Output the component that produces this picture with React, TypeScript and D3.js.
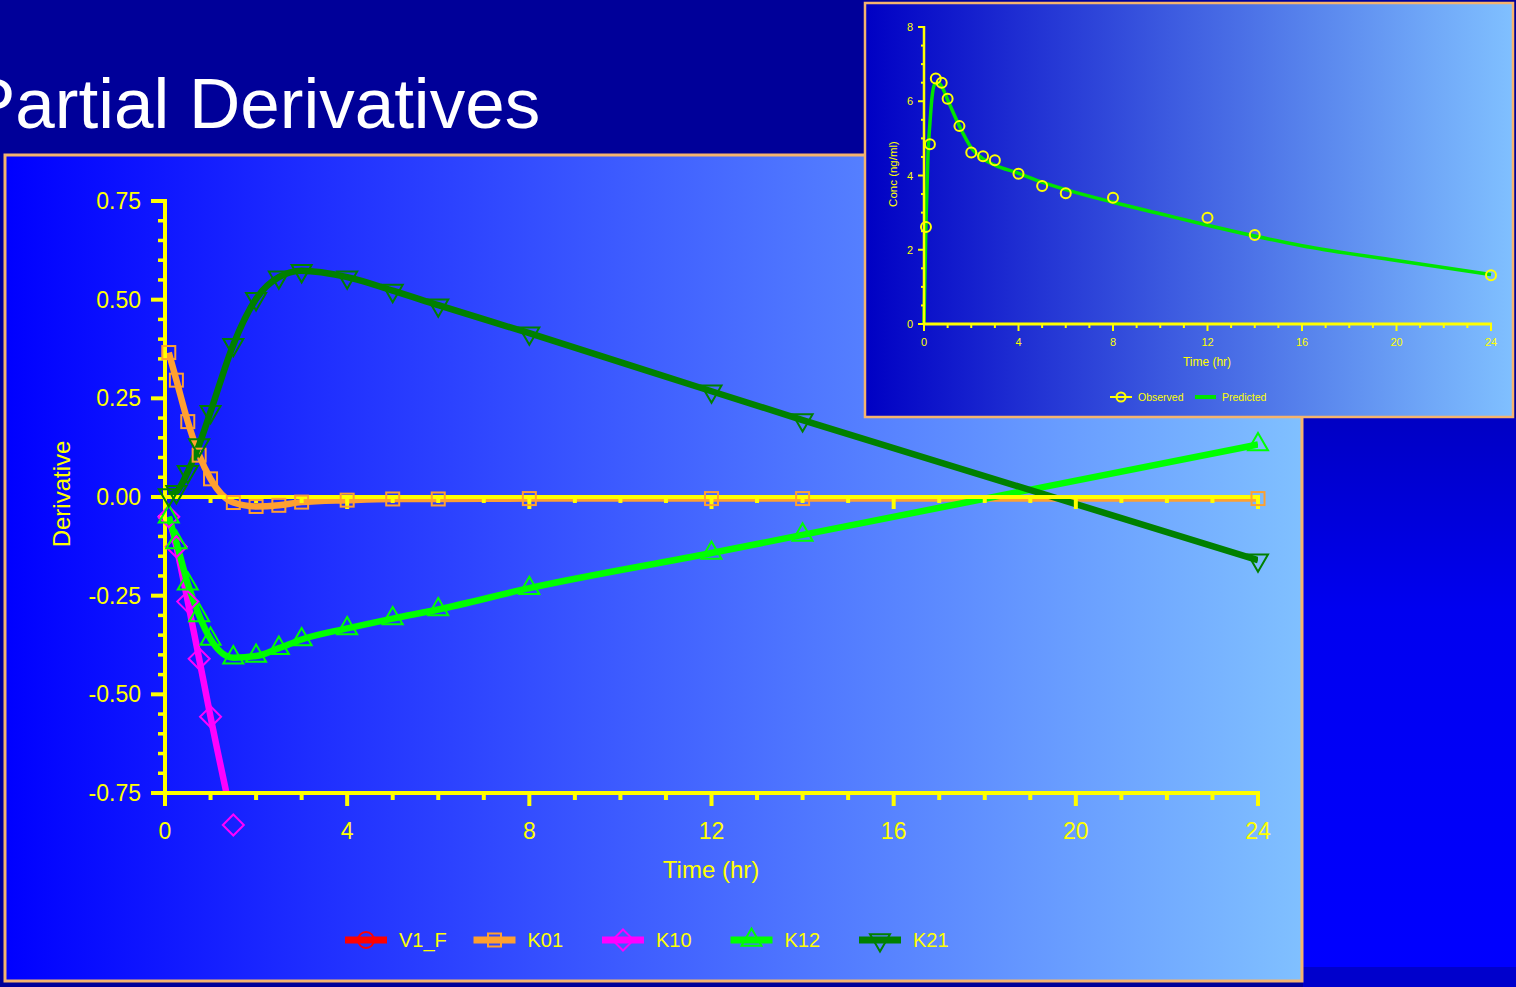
import React from 'react';
import * as d3 from 'd3';

const W = 1516;
const H = 987;

// ---------- main chart data ----------
const times = [0.083, 0.25, 0.5, 0.75, 1, 1.5, 2, 2.5, 3, 4, 5, 6, 8, 12, 14, 24];
const k01 = [0.366, 0.296, 0.191, 0.106, 0.046, -0.014, -0.024, -0.021, -0.013, -0.008, -0.005, -0.005, -0.004, -0.004, -0.004, -0.004];
const k10 = [-0.05, -0.126, -0.265, -0.41, -0.557, -0.831];
const k12 = [-0.05, -0.115, -0.22, -0.3, -0.36, -0.407, -0.403, -0.383, -0.361, -0.333, -0.308, -0.285, -0.231, -0.142, -0.096, 0.133];
const k21 = [0.005, 0.013, 0.064, 0.132, 0.216, 0.386, 0.502, 0.557, 0.573, 0.557, 0.523, 0.486, 0.415, 0.268, 0.195, -0.16];
const v1f: number[] = []; // off-scale, only shown in legend

const seriesNames = ['V1_F', 'K01', 'K10', 'K12', 'K21'];
const seriesColors = ['#ff0000', '#ffa030', '#ff00ff', '#00ff00', '#008000'];
const seriesShapes = ['circle', 'square', 'diamond', 'triUp', 'triDown'];
const seriesValues = [v1f, k01, k10, k12, k21];

const yTicks = [-0.75, -0.5, -0.25, 0, 0.25, 0.5, 0.75];
const xTicks = [0, 4, 8, 12, 16, 20, 24];

// ---------- inset data ----------
const obsConc = [2.61, 4.84, 6.61, 6.5, 6.07, 5.33, 4.62, 4.52, 4.41, 4.05, 3.72, 3.52, 3.4, 2.86, 2.4, 1.31];
const predTimes = [0, 0.083, 0.17, 0.25, 0.33, 0.45, 0.6, 0.75, 1, 1.5, 2, 2.5, 3, 4, 5, 6, 8, 10, 12, 14, 16, 20, 24];
const predConc = [0, 2.7, 4.6, 5.4, 6.05, 6.45, 6.5, 6.4, 6.04, 5.33, 4.75, 4.45, 4.28, 4.06, 3.82, 3.62, 3.28, 2.97, 2.66, 2.37, 2.11, 1.71, 1.33];
const insetYTicks = [0, 2, 4, 6, 8];
const insetXTicks = [0, 4, 8, 12, 16, 20, 24];

const FONT = '"Liberation Sans", Arial, Helvetica, sans-serif';
const YEL = '#ffff00';

function Marker({ shape, x, y, color }: { shape: string; x: number; y: number; color: string }) {
  const common = { fill: 'none', stroke: color, strokeWidth: 2 };
  if (shape === 'circle') return <circle cx={x} cy={y} r={8} {...common} />;
  if (shape === 'square') return <rect x={x - 6.5} y={y - 6.5} width={13} height={13} {...common} />;
  if (shape === 'diamond') {
    const r = 10.5;
    return <path d={`M${x},${y - r}L${x + r},${y}L${x},${y + r}L${x - r},${y}Z`} {...common} />;
  }
  const tri = d3.symbol(d3.symbolTriangle, 173)() as string;
  if (shape === 'triUp') return <path d={tri} transform={`translate(${x},${y})`} {...common} />;
  return <path d={tri} transform={`translate(${x},${y}) rotate(180)`} {...common} />;
}

export default function App() {
  const x = d3.scaleLinear().domain([0, 24]).range([165, 1258]);
  const y = d3.scaleLinear().domain([-0.75, 0.75]).range([793, 201]);

  const line = d3
    .line<[number, number]>()
    .x((d) => x(d[0]))
    .y((d) => y(d[1]))
    .curve(d3.curveMonotoneX);

  const xi = d3.scaleLinear().domain([0, 24]).range([924, 1491]);
  const yi = d3.scaleLinear().domain([0, 8]).range([324, 27]);
  const lineI = d3
    .line<[number, number]>()
    .x((d) => xi(d[0]))
    .y((d) => yi(d[1]))
    .curve(d3.curveMonotoneX);

  const minorY = d3.range(-0.75, 0.7501, 0.05).filter((v) => Math.abs(Math.round(v * 4) - v * 4) > 1e-6);
  const minorX = d3.range(0, 25, 1).filter((v) => v % 4 !== 0);
  const minorYi = d3.range(0, 8.01, 0.5).filter((v) => v % 2 !== 0);

  return (
    <svg
      width={W}
      height={H}
      style={{ position: 'absolute', left: 0, top: 0, display: 'block' }}
      fontFamily={FONT}
    >
      <defs>
        <linearGradient id="mainGrad" x1="0" x2="1" y1="0" y2="0">
          <stop offset="0" stopColor="#0000ff" />
          <stop offset="1" stopColor="#80c0ff" />
        </linearGradient>
        <linearGradient id="insetGrad" x1="0" x2="1" y1="0" y2="0">
          <stop offset="0" stopColor="#0000c4" />
          <stop offset="1" stopColor="#80c0ff" />
        </linearGradient>
        <linearGradient id="sideGrad" x1="0" x2="0" y1="0" y2="1">
          <stop offset="0" stopColor="#0000c4" />
          <stop offset="0.35" stopColor="#0000f0" />
          <stop offset="1" stopColor="#0000ff" />
        </linearGradient>
        <clipPath id="plotClip">
          <rect x={165} y={201} width={1093} height={592} />
        </clipPath>
      </defs>

      {/* page background */}
      <rect x={0} y={0} width={W} height={H} fill="#000099" />
      <rect x={1303} y={418} width={213} height={549} fill="url(#sideGrad)" />
      <rect x={1303} y={967} width={213} height={20} fill="#0000cc" />

      {/* title */}
      <text x={-32} y={128} fontSize={71} fill="#ffffff">
        Partial Derivatives
      </text>

      {/* main panel */}
      <rect x={5} y={155} width={1297} height={826} fill="url(#mainGrad)" stroke="#f5b46e" strokeWidth={3} />

      {/* data lines */}
      <g clipPath="url(#plotClip)">
        {seriesValues.map((vals, i) =>
          vals.length ? (
            <path
              key={seriesNames[i]}
              d={line(vals.map((v, j) => [times[j], v] as [number, number])) as string}
              fill="none"
              stroke={seriesColors[i]}
              strokeWidth={6.5}
              strokeLinejoin="round"
            />
          ) : null
        )}
      </g>

      {/* axes */}
      <g stroke={YEL}>
        <line x1={165} x2={165} y1={199} y2={795} strokeWidth={4} />
        {yTicks.map((t) => (
          <line key={'yt' + t} x1={151} x2={165} y1={y(t)} y2={y(t)} strokeWidth={4} />
        ))}
        {minorY.map((t) => (
          <line key={'ym' + t} x1={158} x2={165} y1={y(t)} y2={y(t)} strokeWidth={3.5} />
        ))}
        <line x1={163} x2={1260} y1={793} y2={793} strokeWidth={4} />
        {xTicks.map((t) => (
          <line key={'xt' + t} x1={x(t)} x2={x(t)} y1={793} y2={806} strokeWidth={4} />
        ))}
        {minorX.map((t) => (
          <line key={'xm' + t} x1={x(t)} x2={x(t)} y1={793} y2={800} strokeWidth={4} />
        ))}
        <line x1={151} x2={1260} y1={y(0)} y2={y(0)} strokeWidth={4} />
        {xTicks.map((t) => (
          <line key={'zt' + t} x1={x(t)} x2={x(t)} y1={y(0)} y2={y(0) + 12} strokeWidth={4} />
        ))}
        {minorX.map((t) => (
          <line key={'zm' + t} x1={x(t)} x2={x(t)} y1={y(0)} y2={y(0) + 6} strokeWidth={4} />
        ))}
      </g>

      {/* markers */}
      {seriesValues.map((vals, i) =>
        vals.map((v, j) => (
          <Marker key={seriesNames[i] + j} shape={seriesShapes[i]} x={x(times[j])} y={y(v)} color={seriesColors[i]} />
        ))
      )}

      {/* tick labels */}
      <g fill={YEL} fontSize={23}>
        {yTicks.map((t) => (
          <text key={'yl' + t} x={141} y={y(t) + 8} textAnchor="end">
            {t.toFixed(2)}
          </text>
        ))}
        {xTicks.map((t) => (
          <text key={'xl' + t} x={x(t)} y={839} textAnchor="middle">
            {t}
          </text>
        ))}
      </g>
      <text x={711} y={878} fontSize={24} fill={YEL} textAnchor="middle">
        Time (hr)
      </text>
      <text transform="translate(70,494) rotate(-90)" fontSize={24} fill={YEL} textAnchor="middle">
        Derivative
      </text>

      {/* legend */}
      {seriesNames.map((name, i) => {
        const lx = 345 + i * 128.5;
        return (
          <g key={'lg' + name}>
            <line x1={lx} x2={lx + 42} y1={940} y2={940} stroke={seriesColors[i]} strokeWidth={7} />
            <Marker shape={seriesShapes[i]} x={lx + 21} y={940} color={seriesColors[i]} />
            <text x={lx + 54} y={947} fontSize={20} fill={YEL}>
              {name}
            </text>
          </g>
        );
      })}

      {/* ---------- inset ---------- */}
      <rect x={865} y={3} width={648} height={414} fill="url(#insetGrad)" stroke="#f5b46e" strokeWidth={2.5} />
      <path
        d={lineI(predTimes.map((t, j) => [t, predConc[j]] as [number, number])) as string}
        fill="none"
        stroke="#00e400"
        strokeWidth={3.5}
      />
      <g stroke={YEL}>
        <line x1={924} x2={924} y1={26} y2={325} strokeWidth={2.5} />
        {insetYTicks.map((t) => (
          <line key={'iyt' + t} x1={918} x2={924} y1={yi(t)} y2={yi(t)} strokeWidth={2} />
        ))}
        {minorYi.map((t) => (
          <line key={'iym' + t} x1={921} x2={924} y1={yi(t)} y2={yi(t)} strokeWidth={2} />
        ))}
        <line x1={923} x2={1492} y1={324} y2={324} strokeWidth={3} />
        {insetXTicks.map((t) => (
          <line key={'ixt' + t} x1={xi(t)} x2={xi(t)} y1={324} y2={331} strokeWidth={2} />
        ))}
        {minorX.map((t) => (
          <line key={'ixm' + t} x1={xi(t)} x2={xi(t)} y1={324} y2={328} strokeWidth={2} />
        ))}
      </g>
      {obsConc.map((c, j) => (
        <circle key={'ob' + j} cx={xi(times[j])} cy={yi(c)} r={5} fill="none" stroke={YEL} strokeWidth={2} />
      ))}
      <g fill={YEL} fontSize={11}>
        {insetYTicks.map((t) => (
          <text key={'iyl' + t} x={913} y={yi(t) + 4} textAnchor="end">
            {t}
          </text>
        ))}
        {insetXTicks.map((t) => (
          <text key={'ixl' + t} x={xi(t)} y={346} textAnchor="middle">
            {t}
          </text>
        ))}
        <text x={1207} y={366} textAnchor="middle" fontSize={12}>
          Time (hr)
        </text>
        <text transform="translate(897,174) rotate(-90)" textAnchor="middle" fontSize={11.5}>
          Conc (ng/ml)
        </text>
        <text x={1138} y={401} fontSize={10.5}>
          Observed
        </text>
        <text x={1222} y={401} fontSize={10.5}>
          Predicted
        </text>
      </g>
      <line x1={1110} x2={1132} y1={397} y2={397} stroke={YEL} strokeWidth={2} />
      <circle cx={1121} cy={397} r={4.5} fill="none" stroke={YEL} strokeWidth={2} />
      <line x1={1195} x2={1216} y1={397} y2={397} stroke="#00e400" strokeWidth={4} />
    </svg>
  );
}
